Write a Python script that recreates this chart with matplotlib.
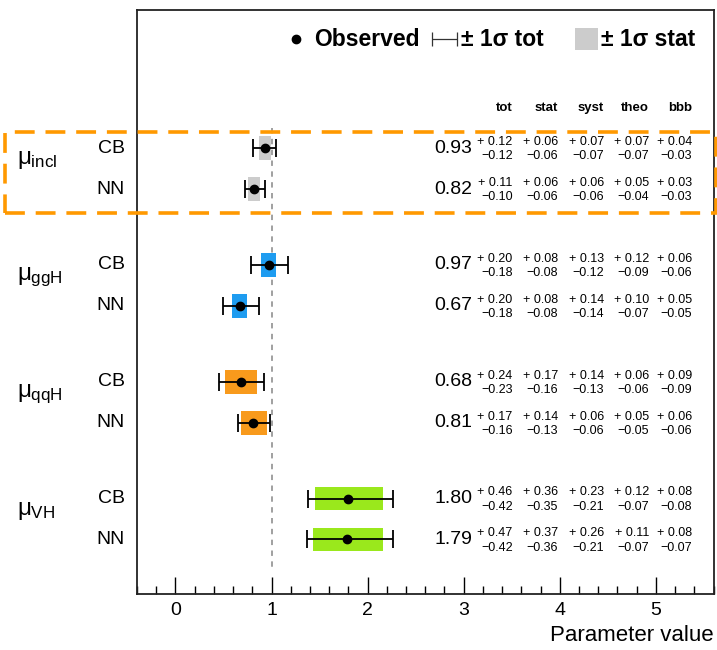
import numpy as np
import matplotlib
matplotlib.use("Agg")
import matplotlib.pyplot as plt
from matplotlib.patches import Rectangle
from matplotlib.ticker import MultipleLocator

plt.rcParams['font.family'] = ['Liberation Sans', 'DejaVu Sans']
plt.rcParams['mathtext.fontset'] = 'custom'
plt.rcParams['mathtext.rm'] = 'Liberation Sans'
plt.rcParams['mathtext.it'] = 'Liberation Sans'

# ---- signal strengths, CB and NN per production mode ----
groups = ['incl', 'ggH', 'qqH', 'VH']
methods = ['CB', 'NN']
box_colors = ['#cccccc', '#1e9cf0', '#f89a1c', '#9ae81c']

central = [0.93, 0.82, 0.97, 0.67, 0.68, 0.81, 1.80, 1.79]
tot_up = [0.12, 0.11, 0.20, 0.20, 0.24, 0.17, 0.46, 0.47]
tot_dn = [0.12, 0.10, 0.18, 0.18, 0.23, 0.16, 0.42, 0.42]
stat_up = [0.06, 0.06, 0.08, 0.08, 0.17, 0.14, 0.36, 0.37]
stat_dn = [0.06, 0.06, 0.08, 0.08, 0.16, 0.13, 0.35, 0.36]
syst_up = [0.07, 0.06, 0.13, 0.14, 0.14, 0.06, 0.23, 0.26]
syst_dn = [0.07, 0.06, 0.12, 0.14, 0.13, 0.06, 0.21, 0.21]
theo_up = [0.07, 0.05, 0.12, 0.10, 0.06, 0.05, 0.12, 0.11]
theo_dn = [0.07, 0.04, 0.09, 0.07, 0.06, 0.05, 0.07, 0.07]
bbb_up = [0.04, 0.03, 0.06, 0.05, 0.09, 0.06, 0.08, 0.08]
bbb_dn = [0.03, 0.03, 0.06, 0.05, 0.09, 0.06, 0.08, 0.07]

col_names = ['tot', 'stat', 'syst', 'theo', 'bbb']
col_up = [tot_up, stat_up, syst_up, theo_up, bbb_up]
col_dn = [tot_dn, stat_dn, syst_dn, theo_dn, bbb_dn]

fig = plt.figure(figsize=(7.17, 6.5), dpi=100)
ax = fig.add_axes([137 / 717, 1 - 594 / 650, 576.5 / 717, 584 / 650])

GROUP_STEP = 2.85
ypos = []
for g in range(len(groups)):
    for r in range(len(methods)):
        ypos.append(g * GROUP_STEP + r)
ypos = np.array(ypos)
central = np.array(central)

# SM reference line
ax.plot([1, 1], [-0.5, 10.3], color='#999999', ls=(0, (3, 3)), lw=1.3, zorder=1)

# stat boxes, total error bars, central points
for i, y in enumerate(ypos):
    g = i // 2
    ax.add_patch(Rectangle((central[i] - stat_dn[i], y - 0.29),
                           stat_dn[i] + stat_up[i], 0.58,
                           facecolor=box_colors[g], edgecolor='none', zorder=2))
ax.errorbar(central, ypos, xerr=[tot_dn, tot_up], fmt='none', ecolor='black',
            elinewidth=1.3, capsize=6.3, capthick=1.3, zorder=3)
ax.plot(central, ypos, 'o', color='black', ms=6, zorder=4)

# value table
X_CENT = 3.09
X_COLS = [3.51, 3.98, 4.46, 4.93, 5.38]
for c, name in enumerate(col_names):
    ax.text(X_COLS[c], -0.98, name, ha='right', va='center', fontsize=9.5,
            fontweight='bold')
for i, y in enumerate(ypos):
    ax.text(X_CENT, y, f'{central[i]:.2f}', ha='right', va='center', fontsize=14)
    for c in range(5):
        ax.text(X_COLS[c], y - 0.15, f'+ {col_up[c][i]:.2f}', ha='right',
                va='center', fontsize=9)
        ax.text(X_COLS[c], y + 0.2, f'\u2212{col_dn[c][i]:.2f}', ha='right',
                va='center', fontsize=9)

# group and method labels left of the frame
for g, name in enumerate(groups):
    yc = g * GROUP_STEP + 0.3
    ax.text(-1.65, yc, r'$\mu_{\mathregular{' + name + '}}$', ha='left',
            va='center', fontsize=17.5, clip_on=False)
    for r, m in enumerate(methods):
        ax.text(-0.53, g * GROUP_STEP + r, m, ha='right', va='center',
                fontsize=14, clip_on=False)

# legend row
ly = -2.66
ax.plot([1.255], [ly], 'o', color='black', ms=6)
ax.text(1.44, ly, 'Observed', ha='left', va='center', fontsize=16.5,
        fontweight='bold')
ax.errorbar([2.805], [ly], xerr=[[0.13], [0.13]], fmt='none', ecolor='#333333',
            elinewidth=0.9, capsize=5, capthick=0.9)
ax.text(2.97, ly, '\u00b1 1\u03c3 tot', ha='left', va='center', fontsize=16.5,
        fontweight='bold')
ax.add_patch(Rectangle((4.16, ly - 0.27), 0.24, 0.54, facecolor='#cccccc',
                       edgecolor='none'))
ax.text(4.43, ly, '\u00b1 1\u03c3 stat', ha='left', va='center', fontsize=16.5,
        fontweight='bold')

ax.set_xlim(-0.4, 5.6)
ax.set_ylim(10.88, -3.37)
ax.set_yticks([])
ax.xaxis.set_major_locator(MultipleLocator(1))
ax.xaxis.set_minor_locator(MultipleLocator(0.2))
ax.tick_params(axis='x', which='major', direction='in', length=12, width=1,
               labelsize=14, pad=6)
ax.tick_params(axis='x', which='minor', direction='in', length=6, width=1)
for s in ax.spines.values():
    s.set_linewidth(1.3)
    s.set_color('#222222')
ax.set_xlabel('Parameter value', fontsize=16, loc='right')

# highlight frame around the inclusive results
fig.patches.append(Rectangle((5 / 717, 1 - 213 / 650), 711 / 717, 81 / 650,
                             transform=fig.transFigure, fill=False,
                             edgecolor='#ff9900', lw=2.6, ls=(0, (5.5, 3)),
                             zorder=10))

fig.savefig('out.png', dpi=100)
